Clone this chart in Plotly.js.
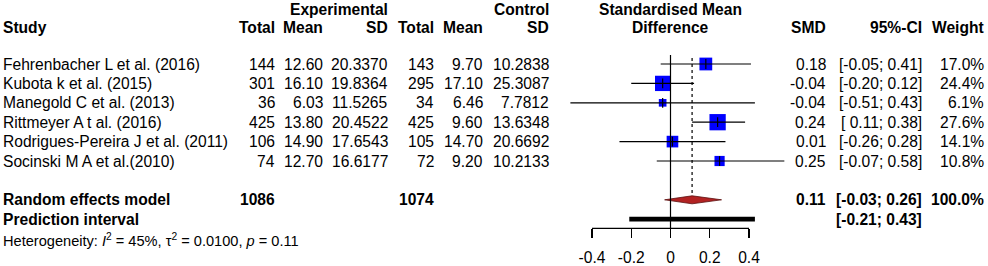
<!DOCTYPE html>
<html>
<head>
<meta charset="utf-8">
<script src="https://cdn.plot.ly/plotly-3.0.1.min.js"></script>
<style>html,body{margin:0;padding:0;background:#fff;}#chart{width:988px;height:266px;}</style>
</head>
<body>
<div id="chart"></div>
<script>
// ---------------- data ----------------
const studies = ["Fehrenbacher L et al. (2016)", "Kubota k et al. (2015)", "Manegold C et al. (2013)",
  "Rittmeyer A t al. (2016)", "Rodrigues-Pereira J et al. (2011)", "Socinski M A et al.(2010)"];
const expTotal = [144, 301, 36, 425, 106, 74];
const expMean = [12.60, 16.10, 6.03, 13.80, 14.90, 12.70];
const expSD = [20.3370, 19.8364, 11.5265, 20.4522, 17.6543, 16.6177];
const ctlTotal = [143, 295, 34, 425, 105, 72];
const ctlMean = [9.70, 17.10, 6.46, 9.60, 14.70, 9.20];
const ctlSD = [10.2838, 25.3087, 7.7812, 13.6348, 20.6692, 10.2133];
const smd = [0.18, -0.04, -0.04, 0.24, 0.01, 0.25];
const ciLo = [-0.05, -0.20, -0.51, 0.11, -0.26, -0.07];
const ciHi = [0.41, 0.12, 0.43, 0.38, 0.28, 0.58];
const weight = [17.0, 24.4, 6.1, 27.6, 14.1, 10.8];

const pooledLabel = "Random effects model";
const pooledExpTotal = 1086;
const pooledCtlTotal = 1074;
const pooledSMD = 0.11;
const pooledLo = -0.03;
const pooledHi = 0.26;
const pooledWeight = 100.0;

const predLabel = "Prediction interval";
const predLo = -0.21;
const predHi = 0.43;

const hetI2 = 45;
const hetTau2 = "0.0100";
const hetP = "0.11";

const nullValue = 0;
const xTicks = [-0.4, -0.2, 0, 0.2, 0.4];
const xTickLabels = ["-0.4", "-0.2", "0", "0.2", "0.4"];

// ---------------- layout helpers ----------------
const W = 988, H = 266;
const FONT = "Liberation Sans, Arial, Helvetica, sans-serif";
const FS = 15.6;
const rowPx = 19.4, row0Px = 64;            // pixel of first study row
const pxToRow = p => (p - row0Px) / rowPx;
const zeroPx = 670.5, unitPx = 196.3;       // x scale of forest panel
const xRange = [-zeroPx / unitPx, (W - zeroPx) / unitPx];

const nS = studies.length;
const rows = studies.map((_, i) => i);
const pooledRow = nS + 1;
const predRow = nS + 2;
const hetRowY = pxToRow(240);
const axisRowY = pxToRow(228.3);

const col = { study: 3, expTotal: 275, expMean: 323, expSD: 388, ctlTotal: 434, ctlMean: 483, ctlSD: 549,
  smd: 826, ci: 922, weight: 984 };

const fmtCI = (lo, hi) => "[" + (lo < 0 ? lo.toFixed(2) : "\u00A0" + lo.toFixed(2)) + "; " + hi.toFixed(2) + "]";

const annotations = [];
function txt(text, px, y, anchor, opts) {
  opts = opts || {};
  annotations.push({
    text: text, xref: "paper", x: px / W, yref: "y", y: y,
    xanchor: anchor, yanchor: "middle", showarrow: false,
    borderpad: 0, borderwidth: 0,
    font: { family: FONT, size: opts.size || FS, color: "#000" }
  });
}

// headers
const h1 = pxToRow(9.5), h2 = pxToRow(27.5);
txt("<b>Experimental</b>", col.expSD, h1, "right");
txt("<b>Control</b>", col.ctlSD, h1, "right");
txt("<b>Standardised Mean</b>", zeroPx, h1, "center");
txt("<b>Difference</b>", zeroPx, h2, "center");
txt("<b>Study</b>", col.study, h2, "left");
txt("<b>Total</b>", col.expTotal, h2, "right");
txt("<b>Mean</b>", col.expMean, h2, "right");
txt("<b>SD</b>", col.expSD, h2, "right");
txt("<b>Total</b>", col.ctlTotal, h2, "right");
txt("<b>Mean</b>", col.ctlMean, h2, "right");
txt("<b>SD</b>", col.ctlSD, h2, "right");
txt("<b>SMD</b>", col.smd, h2, "right");
txt("<b>95%-CI</b>", col.ci, h2, "right");
txt("<b>Weight</b>", col.weight, h2, "right");

// study rows
rows.forEach(i => {
  txt(studies[i], col.study, i, "left");
  txt(String(expTotal[i]), col.expTotal, i, "right");
  txt(expMean[i].toFixed(2), col.expMean, i, "right");
  txt(expSD[i].toFixed(4), col.expSD, i, "right");
  txt(String(ctlTotal[i]), col.ctlTotal, i, "right");
  txt(ctlMean[i].toFixed(2), col.ctlMean, i, "right");
  txt(ctlSD[i].toFixed(4), col.ctlSD, i, "right");
  txt(smd[i].toFixed(2), col.smd, i, "right");
  txt(fmtCI(ciLo[i], ciHi[i]), col.ci, i, "right");
  txt(weight[i].toFixed(1) + "%", col.weight, i, "right");
});

// pooled rows
txt("<b>" + pooledLabel + "</b>", col.study, pooledRow, "left");
txt("<b>" + pooledExpTotal + "</b>", col.expTotal, pooledRow, "right");
txt("<b>" + pooledCtlTotal + "</b>", col.ctlTotal, pooledRow, "right");
txt("<b>" + pooledSMD.toFixed(2) + "</b>", col.smd, pooledRow, "right");
txt("<b>" + fmtCI(pooledLo, pooledHi) + "</b>", col.ci, pooledRow, "right");
txt("<b>" + pooledWeight.toFixed(1) + "%</b>", col.weight, pooledRow, "right");
txt("<b>" + predLabel + "</b>", col.study, predRow, "left");
txt("<b>" + fmtCI(predLo, predHi) + "</b>", col.ci, predRow, "right");
txt("Heterogeneity: <i>I</i><sup>2</sup> = " + hetI2 + "%, \u03C4<sup>2</sup> = " + hetTau2 + ", <i>p</i> = " + hetP,
  col.study, hetRowY, "left", { size: 14.6 });

// ---------------- traces ----------------
const traces = [];
// squares (area proportional to weight)
traces.push({
  type: "scatter", mode: "markers", x: smd, y: rows,
  marker: { symbol: "square", color: "#0000FF", opacity: 1, size: weight.map(w => 3.1 * Math.sqrt(w)), line: { width: 0 } },
  hoverinfo: "skip", showlegend: false
});
// CI lines
const ciX = [], ciY = [];
rows.forEach(i => { ciX.push(ciLo[i], ciHi[i], null); ciY.push(i, i, null); });
traces.push({
  type: "scatter", mode: "lines", x: ciX, y: ciY,
  line: { color: "#000", width: 1.2 }, hoverinfo: "skip", showlegend: false
});
// point estimate ticks
traces.push({
  type: "scatter", mode: "markers", x: smd, y: rows,
  marker: { symbol: "line-ns", size: 7, color: "#000", opacity: 1, line: { color: "#000", width: 1.2 } },
  hoverinfo: "skip", showlegend: false
});
// pooled diamond
const dh = 4 / rowPx;
traces.push({
  type: "scatter", mode: "lines", fill: "toself",
  x: [pooledLo, pooledSMD, pooledHi, pooledSMD, pooledLo],
  y: [pooledRow, pooledRow - dh, pooledRow, pooledRow + dh, pooledRow],
  fillcolor: "#B22222", line: { color: "#5a1010", width: 0.8 },
  hoverinfo: "skip", showlegend: false
});

// ---------------- shapes ----------------
const shapes = [
  // null line
  { type: "line", xref: "x", yref: "y", x0: nullValue, x1: nullValue, y0: pxToRow(55), y1: axisRowY,
    line: { color: "#000", width: 1.2 } },
  // pooled dashed line
  { type: "line", xref: "x", yref: "y", x0: pooledSMD, x1: pooledSMD, y0: pxToRow(58), y1: pooledRow - dh,
    line: { color: "#000", width: 1.2, dash: "3px,3px" } },
  // prediction interval bar
  { type: "rect", xref: "x", yref: "y", x0: predLo, x1: predHi, y0: predRow - 2.4 / rowPx, y1: predRow + 2.4 / rowPx,
    fillcolor: "#000", line: { width: 0 } },
  // axis line
  { type: "line", xref: "x", yref: "y", x0: xTicks[0], x1: xTicks[xTicks.length - 1], y0: axisRowY, y1: axisRowY,
    line: { color: "#000", width: 1.2 } }
];

const layout = {
  width: W, height: H,
  margin: { l: 0, r: 0, t: 0, b: 0, pad: 0 },
  paper_bgcolor: "#fff", plot_bgcolor: "#fff",
  showlegend: false,
  xaxis: {
    domain: [0, 1], range: xRange, anchor: "free", position: (H - 228.3) / H,
    showgrid: false, zeroline: false, showline: false,
    tickmode: "array", tickvals: xTicks, ticktext: xTickLabels,
    ticks: "outside", ticklen: 9, tickwidth: 1.2, tickcolor: "#000",
    tickfont: { family: FONT, size: FS, color: "#000" }, ticklabelstandoff: 6,
    fixedrange: true
  },
  yaxis: {
    domain: [0, 1], range: [pxToRow(H), pxToRow(0)], visible: false, fixedrange: true
  },
  annotations: annotations,
  shapes: shapes
};

Plotly.newPlot("chart", traces, layout, { displayModeBar: false, staticPlot: true });
</script>
</body>
</html>
